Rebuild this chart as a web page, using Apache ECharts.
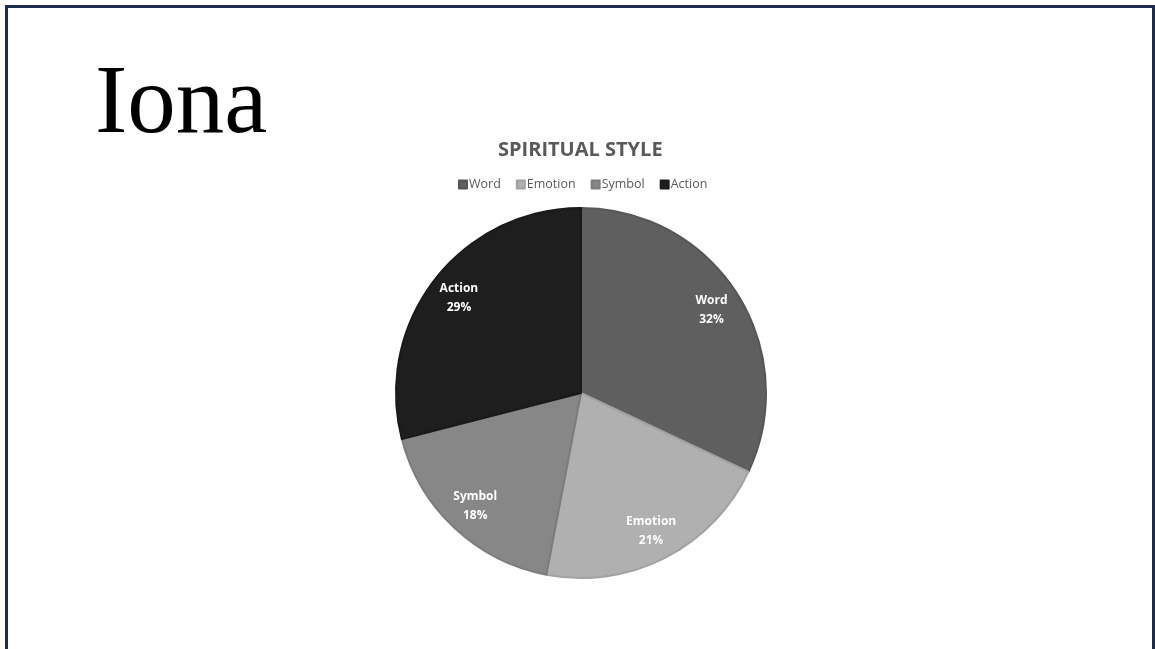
<!DOCTYPE html>
<html>
<head>
<meta charset="utf-8">
<script src="https://cdn.jsdelivr.net/npm/echarts@6/dist/echarts.min.js"></script>
<style>
  html, body { margin: 0; padding: 0; background: #ffffff; }
  #chart { width: 1155px; height: 649px; }
</style>
</head>
<body>
<div id="chart"></div>
<script>
// Spiritual style breakdown (percent)
const categories = ['Word', 'Emotion', 'Symbol', 'Action'];
const shares = [32, 21, 18, 29];
const sliceColors = ['#5f5f5f', '#b0b0b0', '#878787', '#1e1e1e'];
const sliceEdges = ['#565656', '#a2a2a2', '#7c7c7c', '#1a1a1a'];

const pieData = categories.map((name, i) => ({
  name: name,
  value: shares[i],
  itemStyle: { color: sliceColors[i], borderColor: sliceEdges[i] }
}));

const chart = echarts.init(document.getElementById('chart'), null, { renderer: 'canvas' });

const center = [581, 393];
const sans = '"Open Sans", Lato, sans-serif';

chart.setOption({
  backgroundColor: '#ffffff',
  animation: false,
  title: [
    {
      text: 'Iona',
      left: 90,
      top: 53,
      textStyle: {
        fontFamily: '"Liberation Serif", "DejaVu Serif", serif',
        fontWeight: 'normal',
        fontSize: 97,
        color: '#000000'
      }
    },
    {
      text: 'SPIRITUAL STYLE',
      left: 493,
      top: 135,
      textStyle: {
        fontFamily: sans,
        fontWeight: 'bold',
        fontSize: 20,
        color: '#595959'
      }
    }
  ],
  legend: {
    data: categories,
    left: 453,
    top: 173,
    itemWidth: 8,
    itemHeight: 8,
    itemGap: 15,
    icon: 'rect',
    textStyle: {
      fontFamily: sans,
      fontSize: 12.5,
      color: '#595959',
      padding: [0, 0, 0, -3]
    }
  },
  graphic: [
    // slide frame: top, left, right edges
    { type: 'rect', shape: { x: 5, y: 5, width: 1150, height: 3 }, style: { fill: '#1d2c4c' }, silent: true },
    { type: 'rect', shape: { x: 5, y: 5, width: 3, height: 644 }, style: { fill: '#1d2c4c' }, silent: true },
    { type: 'rect', shape: { x: 1152, y: 5, width: 3, height: 644 }, style: { fill: '#1d2c4c' }, silent: true }
  ],
  series: [
    {
      type: 'pie',
      name: 'Spiritual Style',
      center: center,
      radius: [0, 185],
      startAngle: 90,
      clockwise: true,
      data: pieData,
      itemStyle: { borderWidth: 2 },
      label: { show: false },
      labelLine: { show: false },
      emphasis: { disabled: true },
      silent: true
    },
    {
      // transparent ring used only to place the category labels near the rim
      type: 'pie',
      name: 'labels',
      center: center,
      radius: [118, 185],
      startAngle: 90,
      clockwise: true,
      data: categories.map((name, i) => ({ name: name, value: shares[i] })),
      itemStyle: { color: 'rgba(0,0,0,0)', borderWidth: 0 },
      label: {
        show: true,
        position: 'inside',
        formatter: p => p.name + '\n' + p.value + '%',
        fontFamily: sans,
        fontWeight: 'bold',
        fontSize: 12,
        lineHeight: 19,
        color: '#ffffff'
      },
      labelLine: { show: false },
      emphasis: { disabled: true },
      silent: true,
      legendHoverLink: false
    }
  ]
});
</script>
</body>
</html>
